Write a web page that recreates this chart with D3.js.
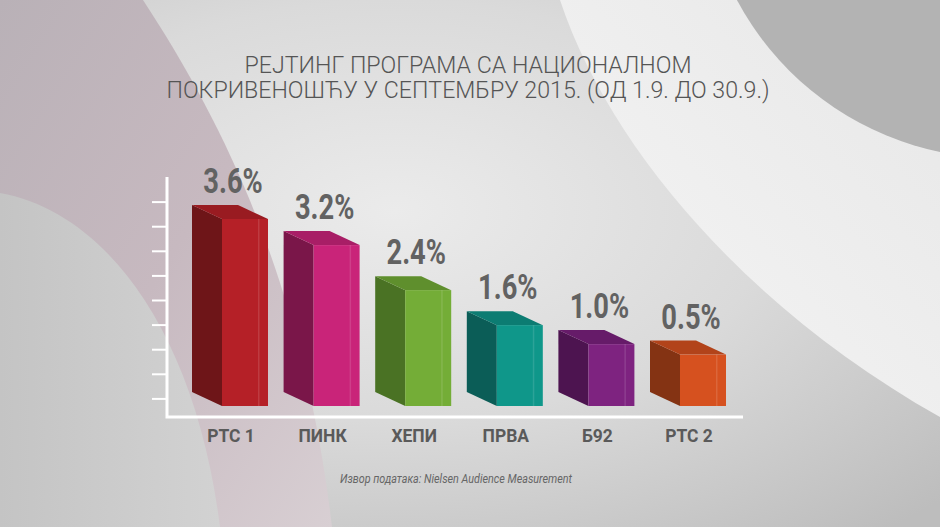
<!DOCTYPE html>
<html>
<head>
<meta charset="utf-8">
<script src="https://cdn.jsdelivr.net/npm/d3@7"></script>
<style>
    html, body { margin: 0; padding: 0; background: #e2e2e2; }
    svg { display: block; }
</style>
</head>
<body>
<div id="chart"></div>
<script>
// rating data, September 2015
const channels = ["РТС 1", "ПИНК", "ХЕПИ", "ПРВА", "Б92", "РТС 2"];
const ratings = [3.6, 3.2, 2.4, 1.6, 1.0, 0.5];
const frontColors = ["#b52027", "#c92479", "#74ad37", "#0f978a", "#7e2380", "#d6511f"];
const sideColors = ["#6e1518", "#7a1649", "#4a7224", "#0b5d57", "#4d1450", "#843313"];
const topColors = ["#991b21", "#a81e66", "#5f8f2d", "#0c7c72", "#661b69", "#b2431a"];
const axisTicks = [0.4, 0.8, 1.2, 1.6, 2.0, 2.4, 2.8, 3.2, 3.6];
const titleLines = ["РЕЈТИНГ ПРОГРАМА СА НАЦИОНАЛНОМ", "ПОКРИВЕНОШЋУ У СЕПТЕМБРУ 2015. (ОД 1.9. ДО 30.9.)"];
const sourceText = "Извор података: Nielsen Audience Measurement";

const width = 940;
const height = 527;
const baseY = 406;      // bottom of the front faces
const axisY = 417;      // white baseline
const depthX = 30, depthY = 14;
const frontW = 46;

const data = channels.map((c, i) => ({
    name: c, value: ratings[i],
    front: frontColors[i], side: sideColors[i], top: topColors[i]
}));

const svg = d3.select("#chart").append("svg")
    .attr("width", width)
    .attr("height", height)
    .attr("viewBox", [0, 0, width, height])
    .style("font-family", "Roboto, 'Open Sans', sans-serif");

// ---- background shapes
const defs = svg.append("defs");
const bgGrad = defs.append("radialGradient").attr("id", "bg")
    .attr("cx", 0.42).attr("cy", 0.4).attr("r", 0.8);
bgGrad.append("stop").attr("offset", "0%").attr("stop-color", "#ebebeb");
bgGrad.append("stop").attr("offset", "50%").attr("stop-color", "#dadada");
bgGrad.append("stop").attr("offset", "100%").attr("stop-color", "#bdbdbd");

const bandGrad = defs.append("linearGradient").attr("id", "band")
    .attr("x1", 1).attr("y1", 0).attr("x2", 0.2).attr("y2", 0.8);
bandGrad.append("stop").attr("offset", "0%").attr("stop-color", "#e7e7e7");
bandGrad.append("stop").attr("offset", "100%").attr("stop-color", "#f3f3f3");

const mauveGrad = defs.append("linearGradient").attr("id", "mauve")
    .attr("x1", 0).attr("y1", 0).attr("x2", 1).attr("y2", 1);
mauveGrad.append("stop").attr("offset", "0%").attr("stop-color", "#b9b1b7");
mauveGrad.append("stop").attr("offset", "50%").attr("stop-color", "#c7b9c0");
mauveGrad.append("stop").attr("offset", "100%").attr("stop-color", "#d8cfd3");

const innerGrad = defs.append("linearGradient").attr("id", "inner")
    .attr("x1", 0).attr("y1", 0).attr("x2", 1).attr("y2", 0);
innerGrad.append("stop").attr("offset", "0%").attr("stop-color", "#c4c4c4");
innerGrad.append("stop").attr("offset", "100%").attr("stop-color", "#d2d2d2");

const bg = svg.append("g");
bg.append("rect").attr("width", width).attr("height", height).attr("fill", "url(#bg)");
bg.append("path").attr("d", "M560,0 C610,150 750,310 940,417 L940,0 Z").attr("fill", "url(#band)");
bg.append("circle").attr("cx", 1000).attr("cy", -140).attr("r", 298).attr("fill", "#b3b3b3");
bg.append("path").attr("d", "M0,0 L143,0 C235,140 305,300 332,527 L0,527 Z").attr("fill", "url(#mauve)");
bg.append("path").attr("d", "M0,193 C105,212 195,330 220,527 L0,527 Z").attr("fill", "url(#inner)");

// ---- scales
const x = d3.scalePoint().domain(channels).range([230, 688]);
// decorative axis, unlabeled ticks
const yAxis = d3.scaleLinear().domain([0, 4]).range([423, 177]);
// the infographic is not drawn to scale; a pow scale with an offset follows its bars
const barH = d3.scalePow().exponent(1.75).domain([0, 3.6]).range([47, 187]);

// ---- axis
const axisG = svg.append("g").attr("transform", "translate(167,0)")
    .call(d3.axisLeft(yAxis).tickValues(axisTicks).tickSize(15).tickFormat(""));
axisG.select(".domain").remove();
axisG.selectAll(".tick line").attr("stroke", "#fff").attr("stroke-width", 2);

svg.append("path")
    .attr("d", `M167,${yAxis(4)} L167,${axisY} L743,${axisY}`)
    .attr("fill", "none").attr("stroke", "#fff").attr("stroke-width", 3);

// ---- 3D bars
const bars = svg.append("g").selectAll("g").data(data).join("g");

bars.append("path")   // side face
    .attr("fill", d => d.side)
    .attr("d", d => {
        const c = x(d.name), yt = baseY - barH(d.value);
        const l = c - 8;
        return `M${l - depthX},${yt - depthY} L${l},${yt} L${l},${baseY} L${l - depthX},${baseY - depthY} Z`;
    });

bars.append("path")   // top face
    .attr("fill", d => d.top)
    .attr("d", d => {
        const c = x(d.name), yt = baseY - barH(d.value);
        const l = c - 8, r = l + frontW;
        return `M${l},${yt} L${r},${yt} L${r - depthX},${yt - depthY} L${l - depthX},${yt - depthY} Z`;
    });

bars.append("rect")   // front face
    .attr("x", d => x(d.name) - 8)
    .attr("y", d => baseY - barH(d.value))
    .attr("width", frontW)
    .attr("height", d => barH(d.value))
    .attr("fill", d => d.front);

bars.append("rect")   // faint highlight strip on the front
    .attr("x", d => x(d.name) + 28)
    .attr("y", d => baseY - barH(d.value))
    .attr("width", 1.5)
    .attr("height", d => barH(d.value))
    .attr("fill", "#ffffff")
    .attr("opacity", 0.12);

// value labels
bars.append("text")
    .attr("transform", d => `translate(${x(d.name) + 3},${baseY - barH(d.value) - 26}) scale(0.78,1)`)
    .attr("text-anchor", "middle")
    .attr("font-size", 35)
    .attr("font-weight", 700)
    .attr("fill", "#626262")
    .text(d => d.value.toFixed(1) + "%");

// category labels
svg.append("g").selectAll("text").data(data).join("text")
    .attr("transform", d => `translate(${x(d.name) + 1},442) scale(0.92,1)`)
    .attr("text-anchor", "middle")
    .attr("font-size", 19)
    .attr("font-weight", 700)
    .attr("fill", "#5a5a5a")
    .text(d => d.name);

// ---- title
const titleWidths = [447, 603];
svg.append("g").selectAll("text").data(titleLines).join("text")
    .attr("x", 468)
    .attr("y", (d, i) => 73 + i * 25)
    .attr("text-anchor", "middle")
    .attr("font-size", 23)
    .attr("font-weight", 300)
    .attr("fill", "#555")
    .attr("textLength", (d, i) => titleWidths[i])
    .attr("lengthAdjust", "spacingAndGlyphs")
    .text(d => d);

// ---- source
svg.append("text")
    .attr("x", 456)
    .attr("y", 483)
    .attr("text-anchor", "middle")
    .attr("font-size", 12)
    .attr("font-style", "italic")
    .attr("fill", "#666")
    .attr("textLength", 232)
    .attr("lengthAdjust", "spacingAndGlyphs")
    .text(sourceText);
</script>
</body>
</html>
